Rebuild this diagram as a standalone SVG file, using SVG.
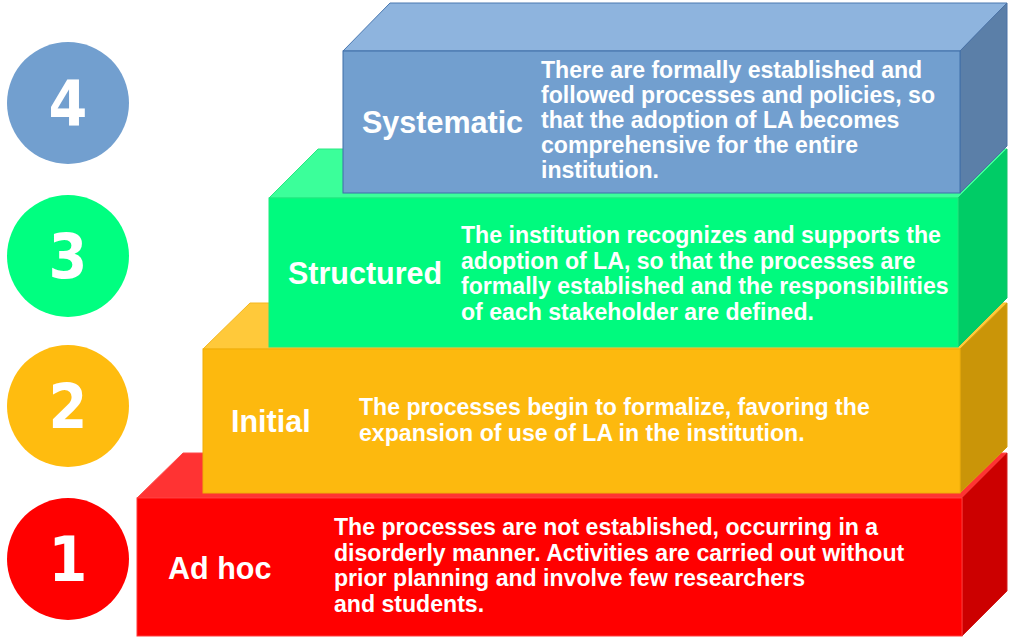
<svg xmlns="http://www.w3.org/2000/svg" width="1014" height="642" viewBox="0 0 1014 642">
  <style>
    .num { font-family: "DejaVu Sans Condensed", "DejaVu Sans", sans-serif; font-stretch: condensed; font-weight: bold; font-size: 62px; fill: #ffffff; text-anchor: middle; }
    .title { font-family: "Liberation Sans", Arial, sans-serif; font-weight: bold; font-size: 30.5px; fill: #ffffff; }
    .body { font-family: "Liberation Sans", Arial, sans-serif; font-weight: bold; font-size: 23.1px; fill: #ffffff; }
    .edge { stroke-width: 1; stroke-linejoin: miter; }
  </style>
  <rect width="1014" height="642" fill="#ffffff"/>

  <!-- level badges -->
  <g id="badge-4">
    <circle cx="68" cy="103" r="61" fill="#729fcf"/>
    <text class="num" x="68" y="125">4</text>
  </g>
  <g id="badge-3">
    <circle cx="68" cy="256" r="61" fill="#00ff80"/>
    <text class="num" x="68" y="278">3</text>
  </g>
  <g id="badge-2">
    <circle cx="68" cy="406" r="61" fill="#ffbc0f"/>
    <text class="num" x="68" y="428">2</text>
  </g>
  <g id="badge-1">
    <circle cx="68" cy="559" r="61" fill="#ff0000"/>
    <text class="num" x="68" y="581">1</text>
  </g>

  <!-- step 1: Ad hoc -->
  <g id="step-1">
    <polygon class="edge" points="137,498 183,453 1007,453 962,498" fill="#ff3333" stroke="#ff4a4a"/>
    <polygon class="edge" points="962,498 1007,453 1007,591 962,636" fill="#cc0000" stroke="#d42020"/>
    <rect class="edge" x="137" y="498" width="825" height="138" fill="#ff0000" stroke="#ff3a3a"/>
    <text class="title" x="168" y="579">Ad hoc</text>
    <text class="body" x="334" y="535">The processes are not established, occurring in a</text>
    <text class="body" x="334" y="560.5">disorderly manner. Activities are carried out without</text>
    <text class="body" x="334" y="586">prior planning and involve few researchers</text>
    <text class="body" x="334" y="611.5">and students.</text>
  </g>

  <!-- step 2: Initial -->
  <g id="step-2">
    <polygon class="edge" points="203,349 250,303 1007,303 960,349" fill="#ffc93a" stroke="#f5b820"/>
    <polygon class="edge" points="960,349 1007,303 1007,447 960,493" fill="#ca9508" stroke="#d69f10"/>
    <rect class="edge" x="203" y="349" width="757" height="144" fill="#fdb90e" stroke="#f0ae08"/>
    <text class="title" x="231" y="432">Initial</text>
    <text class="body" x="359" y="415">The processes begin to formalize, favoring the</text>
    <text class="body" x="359" y="441">expansion of use of LA in the institution.</text>
  </g>

  <!-- step 3: Structured -->
  <g id="step-3">
    <polygon class="edge" points="269,198 318,149 1007,149 958,198" fill="#3bff9a" stroke="#28e882"/>
    <polygon class="edge" points="958,198 1007,149 1007,298 958,347" fill="#00cc66" stroke="#10c46a"/>
    <rect class="edge" x="269" y="198" width="689" height="149" fill="#00fa7e" stroke="#20e87e"/>
    <text class="title" x="288" y="284">Structured</text>
    <text class="body" x="461" y="243">The institution recognizes and supports the</text>
    <text class="body" x="461" y="269">adoption of LA, so that the processes are</text>
    <text class="body" x="461" y="294">formally established and the responsibilities</text>
    <text class="body" x="461" y="320">of each stakeholder are defined.</text>
  </g>

  <!-- step 4: Systematic -->
  <g id="step-4">
    <polygon class="edge" points="343,51 390,3 1007,3 960,51" fill="#8eb4de" stroke="#4a78b0"/>
    <polygon class="edge" points="960,51 1007,3 1007,146 960,193" fill="#5b7fa8" stroke="#4a72a6"/>
    <rect class="edge" x="343" y="51" width="617" height="142" fill="#729fcf" stroke="#3f6fa8"/>
    <text class="title" x="362" y="133">Systematic</text>
    <text class="body" x="541" y="78">There are formally established and</text>
    <text class="body" x="541" y="103">followed processes and policies, so</text>
    <text class="body" x="541" y="128">that the adoption of LA becomes</text>
    <text class="body" x="541" y="153">comprehensive for the entire</text>
    <text class="body" x="541" y="178">institution.</text>
  </g>

  <g id="connectors"/>
</svg>
